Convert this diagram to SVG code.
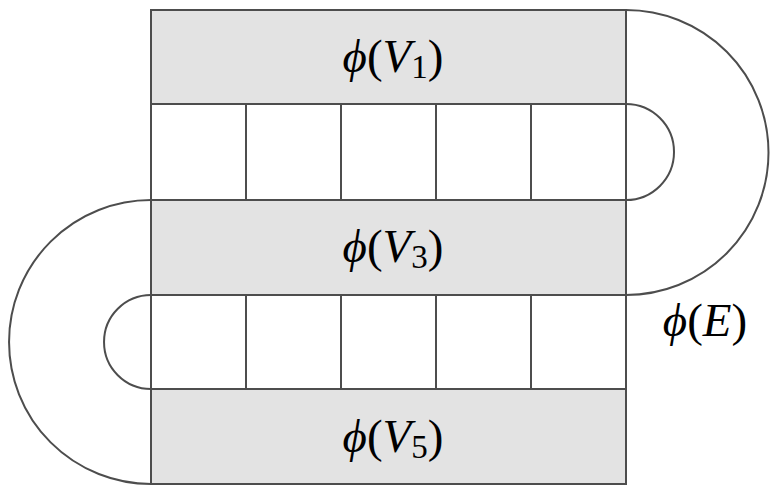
<svg xmlns="http://www.w3.org/2000/svg" width="775" height="490" viewBox="0 0 775 490">
<style>
.band{fill:#e3e3e3;stroke:#4d4d4d;stroke-width:2}
.cell{fill:#ffffff;stroke:#4d4d4d;stroke-width:2}
.arc{fill:none;stroke:#4d4d4d;stroke-width:2}
.lbl{font-family:"Liberation Serif","DejaVu Serif",serif;font-size:47px;fill:#000;text-anchor:middle}
.it{font-style:italic}
.sub{font-size:33px}
</style>
<rect width="775" height="490" fill="#ffffff"/>
<g id="cells1">
<rect class="cell" x="151" y="104" width="95" height="96"/>
<rect class="cell" x="246" y="104" width="95" height="96"/>
<rect class="cell" x="341" y="104" width="95" height="96"/>
<rect class="cell" x="436" y="104" width="95" height="96"/>
<rect class="cell" x="531" y="104" width="95" height="96"/>
</g>
<g id="cells2">
<rect class="cell" x="151" y="295" width="95" height="94"/>
<rect class="cell" x="246" y="295" width="95" height="94"/>
<rect class="cell" x="341" y="295" width="95" height="94"/>
<rect class="cell" x="436" y="295" width="95" height="94"/>
<rect class="cell" x="531" y="295" width="95" height="94"/>
</g>
<g id="V1">
<rect class="band" x="151" y="10" width="475" height="94"/>
<text class="lbl" x="393" y="72"><tspan class="it">ϕ</tspan>(<tspan class="it">V</tspan><tspan class="sub" dy="6">1</tspan><tspan dy="-6">)</tspan></text>
</g>
<g id="V3">
<rect class="band" x="151" y="200" width="475" height="95"/>
<text class="lbl" x="393" y="262"><tspan class="it">ϕ</tspan>(<tspan class="it">V</tspan><tspan class="sub" dy="6">3</tspan><tspan dy="-6">)</tspan></text>
</g>
<g id="V5">
<rect class="band" x="151" y="389" width="475" height="95"/>
<text class="lbl" x="393" y="452"><tspan class="it">ϕ</tspan>(<tspan class="it">V</tspan><tspan class="sub" dy="6">5</tspan><tspan dy="-6">)</tspan></text>
</g>
<g id="connectors">
<path class="arc" d="M626 10 A142.5 142.5 0 0 1 626 295"/>
<path class="arc" d="M626 104 A48 48 0 0 1 626 200"/>
<path class="arc" d="M151 200 A142 142 0 0 0 151 484"/>
<path class="arc" d="M151 295 A47 47 0 0 0 151 389"/>
</g>
<g id="E">
<text class="lbl" x="705" y="336"><tspan class="it">ϕ</tspan>(<tspan class="it">E</tspan>)</text>
</g>
</svg>
